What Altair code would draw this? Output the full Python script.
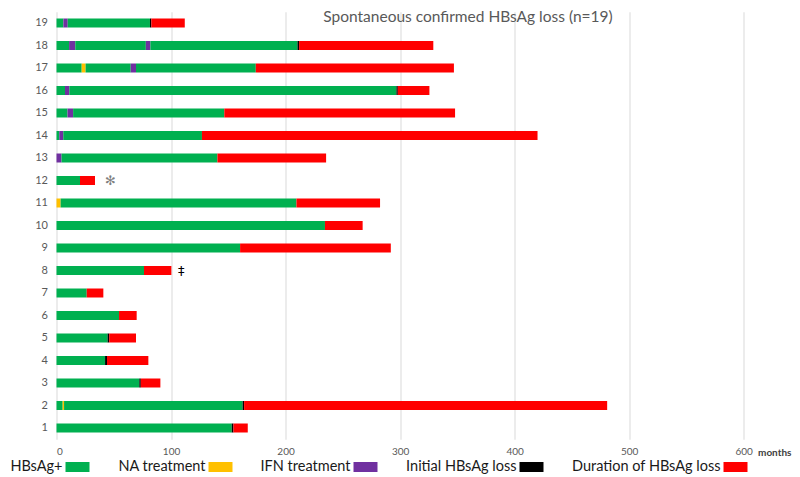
import altair as alt
import pandas as pd

H = "HBsAg+"
NA = "NA treatment"
IFN = "IFN treatment"
L = "Initial HBsAg loss"
D = "Duration of HBsAg loss"

categories = [H, NA, IFN, L, D]
colors = ["#00B050", "#FFC000", "#7030A0", "#000000", "#FF0000"]

# per-patient timeline segments: (type, start month, end month)
p1 = [(H, 0, 153), (L, 153, 154.5), (D, 154.5, 167)]
p2 = [(H, 0, 5.4), (NA, 5.4, 6.6), (H, 6.6, 162.5), (L, 162.5, 163.8), (D, 163.8, 480.8)]
p3 = [(H, 0, 72.3), (L, 72.3, 73.6), (D, 73.6, 90.7)]
p4 = [(H, 0, 42.4), (L, 42.4, 44.1), (D, 44.1, 80.2)]
p5 = [(H, 0, 44.6), (L, 44.6, 46), (D, 46, 69.4)]
p6 = [(H, 0, 54.6), (D, 54.6, 70)]
p7 = [(H, 0, 26.4), (D, 26.4, 40.9)]
p8 = [(H, 0, 76.4), (D, 76.4, 100.3)]
p9 = [(H, 0, 160.3), (D, 160.3, 291.9)]
p10 = [(H, 0, 234.4), (D, 234.4, 267.3)]
p11 = [(NA, 0, 3.6), (H, 3.6, 209.5), (D, 209.5, 282.5)]
p12 = [(H, 0, 20.5), (D, 20.5, 33.6)]
p13 = [(IFN, 0, 4.4), (H, 4.4, 140.5), (D, 140.5, 235.4)]
p14 = [(H, 0, 2.4), (IFN, 2.4, 5.9), (H, 5.9, 127), (D, 127, 420)]
p15 = [(H, 0, 9.6), (IFN, 9.6, 14.5), (H, 14.5, 146.5), (D, 146.5, 348)]
p16 = [(H, 0, 7.4), (IFN, 7.4, 11.2), (H, 11.2, 296.8), (L, 296.8, 298), (D, 298, 325.6)]
p17 = [(H, 0, 22), (NA, 22, 25.4), (H, 25.4, 64.8), (IFN, 64.8, 69.4), (H, 69.4, 174), (D, 174, 347)]
p18 = [(H, 0, 11), (IFN, 11, 16.4), (H, 16.4, 78), (IFN, 78, 82), (H, 82, 210.4), (L, 210.4, 211.8), (D, 211.8, 329)]
p19 = [(H, 0, 6), (IFN, 6, 9.8), (H, 9.8, 81.6), (L, 81.6, 82.8), (D, 82.8, 112)]

all_patients = [p1, p2, p3, p4, p5, p6, p7, p8, p9, p10,
                p11, p12, p13, p14, p15, p16, p17, p18, p19]

# annotation symbols next to bars
mark_patient = [12, 8]
mark_month = [47, 109]
mark_text = ["\u273b", "\u2021"]
mark_color = ["#7F7F7F", "#000000"]

x_ticks = [0, 100, 200, 300, 400, 500, 600]

rows = []
for pid, segs in enumerate(all_patients, start=1):
    for typ, s, e in segs:
        rows.append({"patient": pid, "type": typ, "start": s, "end": e})
df = pd.DataFrame(rows)

ann = pd.DataFrame({"patient": mark_patient, "month": mark_month,
                    "txt": mark_text, "col": mark_color})

FONT = "Lato"

xscale = alt.Scale(domain=[0, 640], nice=False, zero=True)
yscale = alt.Scale(paddingInner=0, paddingOuter=0)

bars = alt.Chart(df).mark_bar(size=9).encode(
    x=alt.X("start:Q", scale=xscale,
            axis=alt.Axis(values=x_ticks, grid=True, gridColor="#D9D9D9",
                          domain=False, ticks=False, labelColor="#595959",
                          labelFontSize=10, labelFont=FONT, labelPadding=7,
                          title="months", titleFont=FONT, titleFontSize=10,
                          titleFontWeight="bold", titleColor="#404040",
                          titleX=701, titleY=13, titleAlign="left",
                          titleBaseline="middle")),
    x2="end:Q",
    y=alt.Y("patient:O", sort="descending", scale=yscale,
            axis=alt.Axis(title=None, ticks=False, domain=False,
                          labelColor="#595959", labelFontSize=11,
                          labelFont=FONT, labelPadding=9)),
    color=alt.Color("type:N", scale=alt.Scale(domain=categories, range=colors),
                    legend=alt.Legend(title=None, orient="none",
                                      direction="horizontal",
                                      legendX=11, legendY=445,
                                      symbolType="M-1.2,-0.5H1.2V0.5H-1.2Z",
                                      symbolSize=400, symbolStrokeWidth=0,
                                      symbolOpacity=1,
                                      labelFontSize=14.5, labelFont=FONT,
                                      labelColor="#1A1A1A",
                                      labelAlign="right",
                                      labelOffset=alt.ExprRef("-25"),
                                      columnPadding=28)),
    order=alt.value(0),
)

notes = alt.Chart(ann).mark_text(fontSize=13, font="DejaVu Sans").encode(
    x=alt.X("month:Q", scale=xscale),
    y=alt.Y("patient:O", sort="descending", scale=yscale),
    text="txt:N",
    color=alt.Color("col:N", scale=None),
)

chart = alt.layer(bars, notes).properties(
    width=733,
    height=427.5,
    padding={"left": 48.5, "top": 3.75, "right": 2.5, "bottom": 36},
    autosize=alt.AutoSizeParams(type="none"),
    title=alt.TitleParams("Spontaneous confirmed HBsAg loss (n=19)",
                          fontSize=15.5, font=FONT, fontWeight="normal",
                          color="#595959", anchor="middle", dx=45, dy=19,
                          offset=-7, baseline="alphabetic", frame="group"),
).configure_view(stroke=None)

chart.save("out.html", embed_options={"renderer": "svg", "actions": False})
